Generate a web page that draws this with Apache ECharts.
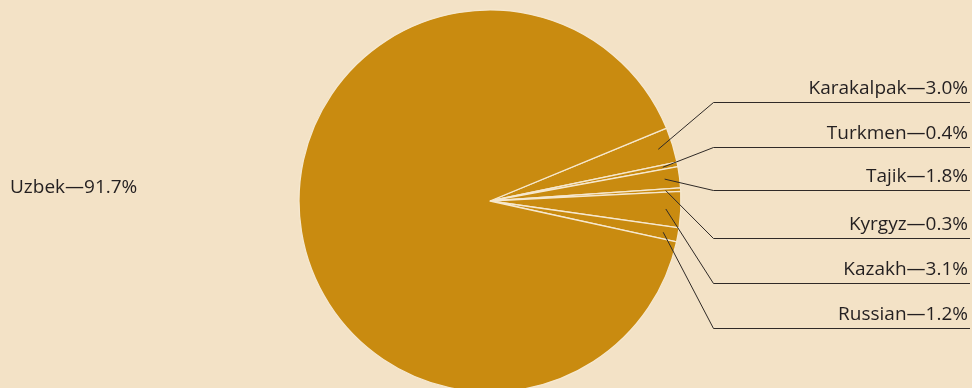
<!DOCTYPE html>
<html>
<head>
<meta charset="utf-8">
<style>
  html, body { margin: 0; padding: 0; background: #f3e2c6; }
  #chart { width: 972px; height: 388px; }
</style>
<script src="https://cdn.jsdelivr.net/npm/echarts@6/dist/echarts.min.js"></script>
</head>
<body>
<div id="chart"></div>
<script>
// Ethnic composition (percent of population)
const groups = ['Karakalpak', 'Turkmen', 'Tajik', 'Kyrgyz', 'Kazakh', 'Russian', 'Uzbek'];
const shares = [3.0, 0.4, 1.8, 0.3, 3.1, 1.2, 91.7];

// Pie geometry (pixels)
const PIE_CX = 490;
const PIE_CY = 201;
const PIE_R = 191;
const LEADER_R = 176;          // leaders start inside the slices
const START_ANGLE = 22.4;

// Label rows on the right: y of each underline, bend x, right edge
const ROW_LINES = [102.5, 147.5, 190.5, 238.5, 283.5, 328.5];
const BEND_X = 713.5;
const RIGHT_X = 970;
const TEXT_RIGHT = 968;

const FONT = '"Open Sans", "Noto Sans", sans-serif';

const chart = echarts.init(document.getElementById('chart'));

const pieData = groups.map((g, i) => ({ name: g, value: shares[i] }));
const labelData = groups.map((g, i) => {
  const item = { name: g, value: shares[i] };
  if (g === 'Uzbek') item.labelLine = { show: false };
  return item;
});

chart.setOption({
  backgroundColor: '#f3e2c6',
  animation: false,
  series: [
    {
      // the visible pie
      type: 'pie',
      z: 2,
      center: [PIE_CX, PIE_CY],
      radius: PIE_R,
      startAngle: START_ANGLE,
      clockwise: true,
      data: pieData,
      silent: true,
      itemStyle: {
        color: '#c98b10',
        borderColor: '#f6e8cf',
        borderWidth: 1.3
      },
      label: { show: false },
      labelLine: { show: false }
    },
    {
      // transparent companion pie on top, carrying labels and leader lines
      type: 'pie',
      z: 5,
      center: [PIE_CX, PIE_CY],
      radius: LEADER_R,
      startAngle: START_ANGLE,
      clockwise: true,
      avoidLabelOverlap: false,
      data: labelData,
      silent: true,
      itemStyle: { color: 'rgba(0,0,0,0)', borderWidth: 0 },
      label: {
        show: true,
        position: 'outside',
        formatter: p => p.name + '\u2014' + p.value.toFixed(1) + '%',
        color: '#231f20',
        fontFamily: FONT,
        fontSize: 19
      },
      labelLine: {
        show: true,
        length: 10,
        length2: 10,
        lineStyle: { color: '#2f2a27', width: 1 }
      },
      labelLayout: function (params) {
        const i = params.dataIndex;
        if (groups[i] === 'Uzbek') {
          return { x: 10, y: 188, align: 'left', verticalAlign: 'middle' };
        }
        const lineY = ROW_LINES[i];
        const p0 = params.labelLinePoints[0];
        return {
          x: TEXT_RIGHT,
          y: lineY - 14,
          align: 'right',
          verticalAlign: 'middle',
          labelLinePoints: [[p0[0], p0[1]], [BEND_X, lineY], [RIGHT_X, lineY]]
        };
      }
    }
  ]
});
</script>
</body>
</html>
